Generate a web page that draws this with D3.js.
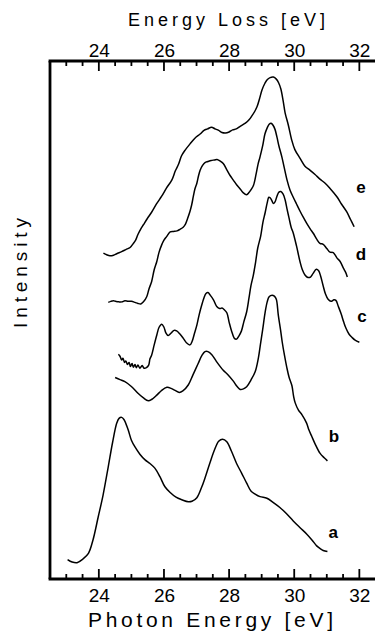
<!DOCTYPE html>
<html>
<head>
<meta charset="utf-8">
<script src="https://cdn.jsdelivr.net/npm/d3@7"></script>
<style>
  html, body { margin: 0; padding: 0; background: #fff; }
  svg { display: block; }
  text { font-family: "Liberation Sans", Arial, sans-serif; fill: #000; }
</style>
</head>
<body>
<svg id="chart" width="375" height="636"></svg>
<script>
// ---- Data (photon energy in eV, intensity in arbitrary units, offset per spectrum) ----
const seriesNames = ["a", "b", "c", "d", "e"];

const aEnergy = [23.04,23.18,23.33,23.51,23.68,23.82,23.98,24.13,24.29,24.42,24.55,24.62,24.70,24.77,24.90,25.00,25.11,25.26,25.42,25.57,25.72,25.88,26.03,26.19,26.37,26.55,26.75,26.86,27.01,27.15,27.26,27.41,27.55,27.68,27.80,27.93,28.07,28.23,28.38,28.54,28.67,28.80,28.95,29.16,29.35,29.56,29.78,29.97,30.18,30.38,30.55,30.69,30.79,30.89,31.02];
const aIntensity = [3.76,3.28,3.15,3.86,4.96,7.53,11.97,16.2,21.7,26.3,30.1,31.0,31.2,30.8,28.8,26.8,25.5,24.1,23.0,22.3,21.4,19.7,17.8,16.7,15.8,15.3,14.9,15.0,15.7,17.6,19.5,22.4,24.9,26.6,27.0,26.5,24.7,22.3,20.5,18.5,17.0,16.4,15.9,15.6,14.8,13.8,12.5,11.2,9.9,8.7,7.5,6.4,5.9,5.5,5.3];

const bEnergy = [24.50,24.65,24.80,24.99,25.21,25.36,25.52,25.63,25.78,25.91,26.09,26.22,26.34,26.47,26.58,26.75,26.89,27.05,27.17,27.26,27.35,27.47,27.60,27.82,27.97,28.13,28.24,28.34,28.44,28.54,28.67,28.80,28.90,28.96,29.03,29.11,29.17,29.23,29.32,29.39,29.45,29.51,29.58,29.63,29.70,29.77,29.84,29.93,29.98,30.03,30.13,30.24,30.38,30.45,30.54,30.64,30.79,30.92,31.02];
const bIntensity = [38.9,38.5,38.1,37.2,35.8,35.0,34.4,34.7,35.5,36.3,37.0,36.8,36.4,36.0,36.3,37.5,39.4,41.6,43.2,43.9,43.9,43.3,42.1,40.3,39.4,38.2,37.2,36.6,36.7,37.1,38.4,40.0,42.7,45.2,48.1,51.6,53.5,54.5,54.8,54.6,54.0,51.0,48.1,45.8,43.2,40.9,39.0,37.3,35.3,34.0,32.6,31.7,30.1,28.8,27.5,26.1,24.3,23.4,22.8];

const cEnergy = [24.60,24.65,24.70,24.74,24.79,24.83,24.88,24.93,24.97,25.02,25.06,25.11,25.15,25.20,25.26,25.33,25.39,25.46,25.53,25.57,25.62,25.70,25.78,25.85,25.93,26.00,26.06,26.13,26.22,26.31,26.39,26.49,26.59,26.69,26.80,26.86,26.94,27.01,27.08,27.16,27.23,27.29,27.35,27.42,27.52,27.62,27.71,27.78,27.85,27.93,28.00,28.08,28.17,28.23,28.30,28.38,28.45,28.54,28.61,28.67,28.74,28.81,28.88,28.97,29.04,29.11,29.17,29.22,29.26,29.31,29.36,29.41,29.47,29.53,29.59,29.66,29.72,29.78,29.84,29.91,29.96,30.07,30.18,30.25,30.33,30.42,30.50,30.58,30.68,30.75,30.81,30.88,30.96,31.04,31.13,31.22,31.28,31.35,31.44,31.52,31.59,31.68,31.78,31.87,32.00];
const cIntensity = [43.4,43.0,42.3,42.6,41.8,42.1,41.4,41.8,41.0,41.6,40.9,41.4,40.8,41.3,40.7,41.2,40.7,40.8,41.3,42.5,43.2,45.2,47.1,48.6,49.2,48.6,47.5,47.0,47.5,48.0,47.9,47.3,46.5,45.6,45.2,45.8,47.5,49.0,51.0,52.9,54.3,55.1,55.3,54.8,53.9,52.6,52.2,52.3,52.0,51.4,49.6,47.8,46.4,46.3,46.9,47.9,49.6,51.6,54.2,56.6,58.5,61.0,63.9,66.2,68.9,70.8,72.6,73.7,73.6,73.1,72.5,72.8,73.9,74.7,74.8,74.3,73.2,71.4,69.7,67.8,67.0,64.3,61.2,59.7,58.7,58.2,58.3,59.0,59.8,59.5,58.5,56.8,55.0,54.0,53.6,53.9,53.8,52.7,51.2,49.6,48.4,47.3,46.6,46.1,45.7];

const dEnergy = [24.29,24.37,24.45,24.52,24.62,24.71,24.80,24.90,25.00,25.11,25.20,25.29,25.37,25.47,25.54,25.62,25.70,25.78,25.85,25.93,26.00,26.08,26.19,26.29,26.40,26.49,26.59,26.66,26.72,26.80,26.85,26.90,26.95,27.01,27.06,27.11,27.18,27.26,27.35,27.45,27.55,27.63,27.72,27.82,27.93,28.03,28.13,28.23,28.34,28.43,28.54,28.61,28.69,28.75,28.83,28.89,28.95,29.03,29.10,29.17,29.23,29.29,29.35,29.41,29.47,29.53,29.62,29.69,29.78,29.87,29.97,30.07,30.18,30.29,30.38,30.49,30.59,30.69,30.79,30.89,31.00,31.10,31.20,31.31,31.41,31.51,31.58,31.63];
const dIntensity = [53.4,53.6,53.7,53.6,53.5,53.5,53.7,53.6,53.6,53.4,53.2,53.1,53.5,54.5,56.0,57.4,59.7,61.3,63.1,64.5,65.4,66.1,67.0,67.1,67.2,67.5,67.9,68.5,69.5,71.0,72.2,73.8,75.3,76.4,77.8,78.9,79.8,80.4,80.6,80.8,80.9,81.0,80.7,80.2,79.0,77.9,77.0,76.1,75.3,74.6,74.2,74.6,75.3,76.0,78.2,80.1,81.5,83.6,85.9,87.1,87.8,88.0,87.6,86.8,85.3,83.6,81.5,79.5,77.0,75.1,73.7,72.4,71.0,69.7,68.7,67.6,66.7,65.6,64.8,64.6,63.8,63.1,63.0,62.0,61.3,60.0,59.2,58.3];

const eEnergy = [24.14,24.24,24.34,24.45,24.55,24.70,24.83,24.96,25.05,25.13,25.20,25.29,25.37,25.49,25.62,25.77,25.93,26.08,26.24,26.35,26.45,26.54,26.65,26.80,26.95,27.11,27.23,27.34,27.46,27.57,27.68,27.78,27.89,28.00,28.11,28.22,28.34,28.50,28.62,28.70,28.79,28.86,28.93,29.01,29.10,29.17,29.26,29.36,29.45,29.52,29.59,29.66,29.72,29.82,29.92,30.02,30.18,30.33,30.49,30.64,30.79,30.95,31.10,31.31,31.45,31.61,31.73,31.84];
const eIntensity = [62.9,62.6,62.4,62.5,62.8,63.2,63.6,64.0,64.7,65.4,66.5,67.6,68.4,69.6,70.8,72.4,73.9,75.5,77.0,78.8,80.1,81.7,82.8,84.0,85.1,85.9,86.6,86.9,87.2,86.9,86.6,86.2,86.1,86.3,86.7,86.9,87.4,88.0,88.7,89.4,90.3,91.2,92.6,94.4,95.7,96.4,96.8,96.9,96.5,95.8,94.6,92.3,90.0,87.6,84.8,82.9,81.2,79.7,78.9,78.1,77.2,76.4,75.4,73.8,72.4,70.9,69.4,68.0];

// label anchors in data units (eV, intensity)
const labelEnergy = [31.20, 31.22, 32.08, 32.05, 32.05];
const labelIntensity = [7.9, 26.4, 49.6, 61.6, 74.5];

const tickValues = [24, 26, 28, 30, 32];
const minorTickValues = [23, 23.5, 24, 24.5, 25, 25.5, 26, 26.5, 27, 27.5, 28, 28.5, 29, 29.5, 30, 30.5, 31, 31.5, 32];
const xTitleBottom = "Photon Energy [eV]";
const xTitleTop = "Energy Loss [eV]";
const yTitle = "Intensity";

// ---- Layout ----
const svg = d3.select("#chart");
const mLeft = 50, mRight = 374, mTop = 61, mBottom = 579;

const x = d3.scaleLinear().domain([22.5, 32.45]).range([mLeft, mRight]);
const y = d3.scaleLinear().domain([0, 100]).range([mBottom, mTop]);

const series = [
  {name: "a", E: aEnergy, I: aIntensity},
  {name: "b", E: bEnergy, I: bIntensity},
  {name: "c", E: cEnergy, I: cIntensity},
  {name: "d", E: dEnergy, I: dIntensity},
  {name: "e", E: eEnergy, I: eIntensity}
];

const line = d3.line()
  .x(d => x(d[0]))
  .y(d => y(d[1]))
  .curve(d3.curveCatmullRom.alpha(0.5));

const gCurves = svg.append("g");
series.forEach(s => {
  const pts = s.E.map((e, i) => [e, s.I[i]]);
  gCurves.append("path")
    .datum(pts)
    .attr("d", line)
    .attr("fill", "none")
    .attr("stroke", "#000")
    .attr("stroke-width", 1.5)
    .attr("stroke-linejoin", "round");
});

// curve labels
seriesNames.forEach((n, i) => {
  svg.append("text")
    .attr("x", x(labelEnergy[i]))
    .attr("y", y(labelIntensity[i]))
    .attr("text-anchor", "middle")
    .attr("font-size", 17)
    .attr("font-weight", "bold")
    .text(n);
});

// ---- Axes (ticks pointing inward) ----
const xBottom = d3.axisBottom(x).tickValues(tickValues).tickSize(0).tickFormat(d3.format("d"));
const xTop = d3.axisTop(x).tickValues(tickValues).tickSize(0).tickFormat(d3.format("d"));

const gTicks = svg.append("g").attr("stroke", "#000").attr("stroke-width", 1.8);
minorTickValues.forEach(v => {
  const len = tickValues.includes(v) ? 10 : 5;
  gTicks.append("line").attr("x1", x(v)).attr("x2", x(v)).attr("y1", mBottom).attr("y2", mBottom - len);
  gTicks.append("line").attr("x1", x(v)).attr("x2", x(v)).attr("y1", mTop).attr("y2", mTop + len);
});

const gb = svg.append("g").attr("transform", `translate(0,${mBottom})`).call(xBottom);
gb.select(".domain").remove();
gb.selectAll("text").attr("font-size", 19).attr("font-family", "Liberation Sans, Arial, sans-serif").attr("dy", null).attr("y", 23);

const gt = svg.append("g").attr("transform", `translate(0,${mTop})`).call(xTop);
gt.select(".domain").remove();
gt.selectAll("text").attr("font-size", 19).attr("font-family", "Liberation Sans, Arial, sans-serif").attr("dy", null).attr("y", -4);

const gFrame = svg.append("g").attr("stroke", "#000").attr("stroke-width", 2.8).attr("fill", "none");
gFrame.append("line").attr("x1", mLeft - 1.4).attr("x2", 375).attr("y1", mTop).attr("y2", mTop);
gFrame.append("line").attr("x1", mLeft - 1.4).attr("x2", 375).attr("y1", mBottom).attr("y2", mBottom);
gFrame.append("line").attr("x1", mLeft).attr("x2", mLeft).attr("y1", mTop).attr("y2", mBottom);

svg.append("text")
  .attr("x", 88).attr("y", 627)
  .attr("font-size", 21)
  .attr("textLength", 245).attr("lengthAdjust", "spacing")
  .text(xTitleBottom);

svg.append("text")
  .attr("x", 128).attr("y", 26)
  .attr("font-size", 18)
  .attr("textLength", 197).attr("lengthAdjust", "spacing")
  .text(xTitleTop);

svg.append("text")
  .attr("transform", "translate(27,328) rotate(-90)")
  .attr("font-size", 19)
  .attr("textLength", 110).attr("lengthAdjust", "spacing")
  .text(yTitle);
</script>
</body>
</html>
